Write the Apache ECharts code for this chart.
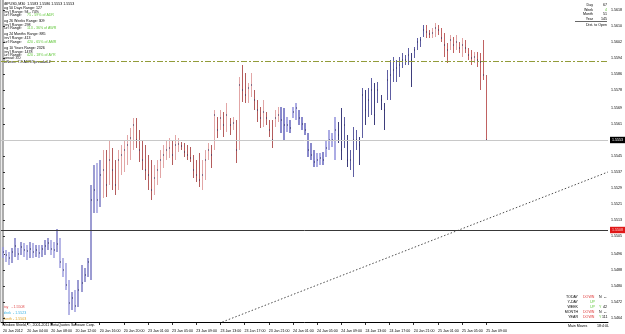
<!DOCTYPE html>
<html><head><meta charset="utf-8">
<script src="https://cdn.jsdelivr.net/npm/echarts@6/dist/echarts.min.js"></script>
<style>html,body{margin:0;padding:0;background:#fff}#c{width:625px;height:334px}</style>
</head><body><div id="c"></div>
<script>
// GBPUSD M30 bars, 20 Jan 00:00 .. 25 Jan 09:00
const barHigh = [
1.54995,1.5498,1.5497,1.5499,1.5504,1.5499,1.5502,1.55015,1.55005,1.5502,1.55015,1.55005,1.55005,1.55005,1.5503,1.5504,1.5503,1.5502,1.55085,1.5504,
1.5494,1.54915,1.5483,1.5477,1.5478,1.5483,1.54905,1.5489,1.5494,1.55305,
1.55405,1.55415,1.5543,1.5548,1.5548,1.5553,1.5549,1.5543,1.5548,1.55505,
1.5553,1.55555,1.5559,1.5564,1.5564,1.5558,1.5553,1.55505,1.55455,1.5543,
1.55405,1.5543,1.5548,1.55505,1.5553,1.5554,1.5553,1.55555,1.5554,1.5552,
1.55515,1.55505,1.55495,1.55455,1.5543,1.55465,1.5543,1.5548,1.55515,1.55505,
1.5568,1.55645,1.5568,1.5567,1.55715,1.5564,1.55645,1.5563,1.55845,1.55905,
1.55865,1.55815,1.55865,1.5578,1.5573,1.55695,1.5573,1.5567,1.5563,1.5563,
1.5568,1.55695,1.55695,1.5569,1.55645,1.5563,1.55695,1.55715,1.5568,1.55645,
1.55615,1.55565,1.55515,1.5548,1.55465,1.55465,1.5547,1.5553,1.5558,1.55565,
1.55645,1.5562,1.5569,1.55645,1.55555,1.5548,1.55595,1.5558,1.55545,1.5579,
1.5578,1.5579,1.5584,1.55815,1.5582,1.55755,1.55715,1.5588,1.5593,1.55945,
1.5593,1.55945,1.55965,1.55955,1.5599,1.55965,1.55995,1.5604,1.56045,1.56105,
1.56105,1.5608,1.5609,1.56115,1.56105,1.5609,1.56065,1.56015,1.56055,1.56045,
1.56055,1.5602,1.5604,1.5603,1.5599,1.5598,1.5597,1.5597,1.55965,1.5603,1.55855];
const barLow = [
1.5494,1.5492,1.54905,1.54915,1.54945,1.5493,1.54955,1.54945,1.5493,1.5494,1.5494,1.54945,1.5494,1.54945,1.54955,1.5498,1.54955,1.5494,1.5497,1.5489,
1.54845,1.5478,1.54655,1.5468,1.5467,1.54695,1.5477,1.5482,1.54845,1.5483,
1.55165,1.55165,1.55195,1.5524,1.55245,1.55305,1.5528,1.55255,1.5528,1.55355,
1.5537,1.55405,1.5543,1.5548,1.5549,1.5542,1.5538,1.5533,1.5528,1.5523,
1.55255,1.55305,1.5534,1.5539,1.5543,1.5544,1.55405,1.5543,1.5547,1.5548,
1.55445,1.5543,1.5542,1.5534,1.5532,1.55295,1.5528,1.5533,1.5543,1.5539,
1.5548,1.5554,1.5558,1.55545,1.5557,1.55555,1.5558,1.55415,1.5548,1.5572,
1.55715,1.55715,1.55745,1.5568,1.5562,1.5559,1.55595,1.55605,1.55545,1.5549,
1.55595,1.5562,1.55565,1.5553,1.5557,1.55565,1.5564,1.5563,1.55605,1.5558,
1.55555,1.55445,1.5543,1.55395,1.55395,1.55405,1.55405,1.55445,1.5548,1.55495,
1.5543,1.55515,1.5543,1.5549,1.55395,1.5538,1.55345,1.5548,1.55405,1.5554,
1.55605,1.55645,1.55655,1.55605,1.55715,1.5568,1.5558,1.5573,1.5573,1.5582,
1.5582,1.55845,1.5589,1.55905,1.55905,1.55795,1.5594,1.5598,1.55995,1.56045,
1.5604,1.5604,1.5604,1.56045,1.56055,1.5602,1.55945,1.55915,1.5598,1.55965,
1.5598,1.55965,1.55945,1.55965,1.5593,1.55905,1.55915,1.55895,1.5578,1.5583,1.5553];
const barClose = [
1.5497,1.54955,1.5494,1.5497,1.55,1.5496,1.54995,1.5498,1.54975,1.54985,1.5497,1.5498,1.54965,1.54985,1.55,1.55015,1.54985,1.5498,1.5501,1.5492,
1.5488,1.54805,1.54715,1.5474,1.547,1.5478,1.54815,1.54855,1.5492,1.5523,
1.5528,1.5523,1.55355,1.5538,1.55305,1.5543,1.5538,1.55305,1.5543,1.55455,
1.5548,1.55505,1.5554,1.55605,1.5553,1.5548,1.5543,1.5538,1.55355,1.5528,
1.5534,1.5538,1.5543,1.55455,1.5548,1.5549,1.55455,1.55505,1.5551,1.555,
1.5547,1.55455,1.5544,1.5538,1.55355,1.5533,1.55355,1.5543,1.5548,1.55455,
1.55655,1.5558,1.5564,1.55605,1.55655,1.55605,1.55615,1.5548,1.55805,1.5578,
1.55755,1.5579,1.55805,1.5573,1.5568,1.5564,1.5567,1.5564,1.5558,1.5553,
1.5564,1.55655,1.5563,1.55605,1.55605,1.5559,1.5567,1.5569,1.5564,1.5561,
1.5558,1.5548,1.55455,1.5542,1.5543,1.5544,1.5543,1.5549,1.5553,1.5553,
1.5558,1.55555,1.5548,1.55605,1.5543,1.5543,1.5553,1.5553,1.55505,1.55755,
1.5568,1.5573,1.5578,1.55655,1.5578,1.5573,1.5568,1.5583,1.55855,1.5588,
1.5589,1.55905,1.5593,1.5593,1.55955,1.5593,1.5598,1.5602,1.5603,1.5608,
1.5607,1.5606,1.56065,1.5609,1.5608,1.5604,1.56005,1.5598,1.5603,1.56005,
1.5602,1.5599,1.56005,1.5599,1.55955,1.5594,1.55945,1.5593,1.5592,1.55855,1.5553];

const timeTickLabels = ['20 Jan 2012','20 Jan 04:00','20 Jan 08:00','20 Jan 12:00','20 Jan 16:00','20 Jan 20:00',
  '23 Jan 01:00','23 Jan 05:00','23 Jan 09:00','23 Jan 13:00','23 Jan 17:00','23 Jan 21:00',
  '24 Jan 01:00','24 Jan 05:00','24 Jan 09:00','24 Jan 13:00','24 Jan 17:00','24 Jan 21:00',
  '25 Jan 01:00','25 Jan 05:00','25 Jan 09:00'];
const barsPerTimeLabel = 8;
const priceTicks = [1.5618,1.5610,1.5602,1.5594,1.5586,1.5578,1.5569,1.5561,1.5545,1.5537,1.5529,1.5521,1.5513,1.5505,1.5496,1.5488,1.5480,1.5472,1.5464];

const dayOpen = 1.5508, weekOpen = 1.5523, monthOpen = 1.5503;
const bidPrice = 1.5553;
const levelPrice = 1.55925;
const trendLine = [[72.6, 1.5462], [200.3, 1.5537]];

const shading = [
  {from:0,to:32,up:'#9c9cd2',down:'#b6b6e6',width:2},
  {from:33,to:91,up:'#e2a6a6',down:'#b45c5c',width:1},
  {from:92,to:110,up:'#acace4',down:'#8a8acc',width:2},
  {from:111,to:139,up:'#5e5ea2',down:'#3e3e7c',width:1},
  {from:140,to:160,up:'#e0a2a2',down:'#c06262',width:1}
];
function styleFor(i){ for (const s of shading) if (i>=s.from && i<=s.to) return s; return shading[0]; }

const barData = barHigh.map((h, i) => [i, h, barLow[i], barClose[i]]);
const timeTickIdx = timeTickLabels.map((_, k) => k * barsPerTimeLabel);

const FONT = 'Liberation Sans';
const FS = 3.6;
function txt(x, y, text, fill, align) {
  return {type:'text', x:x, y:y, silent:true, style:{text:text, fill:fill||'#000', fontSize:FS, fontFamily:FONT, align:align||'left', verticalAlign:'middle'}};
}
const GREEN = '#62c83c', RED = '#e03a3a';
const texts = [
  txt(2,4,'GBPUSD,M30  1.5583 1.5586 1.5553 1.5553'),
  txt(2,8,'Avg 50 Days Range: 127'),
  txt(2,11.5,"Prev'l Range: 94 - 74%"),
  txt(2,15,"Cur'l Range:"), txt(27,15,'75 - 59% of ADR',GREEN),
  txt(2,21,'Avg 26 Weeks Range: 309'),
  txt(2,24.5,"Prev'l Range: 298"),
  txt(2,28,"Cur'l Range:"), txt(27,28,'113 - 36% of AWR',GREEN),
  txt(2,34,'Avg 24 Months Range: 885'),
  txt(2,38,"Prev'l Range: 413"),
  txt(2,42,"Cur'l Range:"), txt(27,42,'420 - 65% of AMR',GREEN),
  txt(2,48,'Avg 10 Years Range: 2326'),
  txt(2,51.5,"Prev'l Range: 1478"),
  txt(2,55,"Cur'l Range:"), txt(27,55,'420 - 18% of AYR',GREEN),
  txt(2,58,'Spread: 3.0'),
  txt(2,61.5,'NoNews: 7.8 ADR/Spread=4.2'),
  // top right
  txt(593,5,'Day','#000','right'), txt(607,5,'67','#000','right'),
  txt(593,9.5,'Week','#000','right'), txt(607,9.5,'4',GREEN,'right'),
  txt(593,14,'Month','#000','right'), txt(607,14,'51','#000','right'),
  txt(593,18.5,'Year','#000','right'), txt(607,18.5,'145','#000','right'),
  {type:'line', silent:true, shape:{x1:575,y1:21.5,x2:607,y2:21.5}, style:{stroke:'#000',lineWidth:0.6}},
  txt(607,25,'Dist. to Open','#000','right'),
  // bottom right
  txt(578,297,'TODAY','#000','right'), txt(583,297,'DOWN',RED), txt(599,297,'N'), txt(604,297,'--'),
  txt(578,302,'Y-DAY','#000','right'), txt(590,302,'UP',GREEN),
  txt(578,307,'WEEK','#000','right'), txt(590,307,'UP',GREEN), txt(599,307,'Y',GREEN), txt(603,307,'42'),
  txt(578,312,'MONTH','#000','right'), txt(583,312,'DOWN',RED), txt(599,312,'N'), txt(604,312,'--'),
  txt(578,317,'YEAR','#000','right'), txt(583,317,'DOWN',RED), txt(599,317,'Y',GREEN), txt(602,317,'111'),
  txt(568,326,'Main Moves'), txt(597,326,'18:4:0L'),
  // bottom left
  txt(2,307,'Day   - ' + dayOpen.toFixed(4),'#e04848'),
  txt(2,313,'Week  - ' + weekOpen.toFixed(4),'#3cb4e6'),
  txt(2,319,'Month - ' + monthOpen.toFixed(4),'#e0a428'),
  txt(2,324.5,'Window Shield, \u00a9, 2001-2011 MetaQuotes Software Corp.'),
  {type:'line', silent:true, shape:{x1:0.5,y1:0,x2:0.5,y2:322}, style:{stroke:'#b4b4b4',lineWidth:1.5}}
];

const chart = echarts.init(document.getElementById('c'), null, {renderer:'canvas'});
chart.setOption({
  animation:false,
  backgroundColor:'#ffffff',
  grid:{left:0, top:0, width:609, height:322, containLabel:false},
  xAxis:{type:'value', min:-0.66, max:200.33,
    axisLine:{show:true, lineStyle:{color:'#000', width:1}},
    axisTick:{show:true, customValues:timeTickIdx, length:3, lineStyle:{color:'#000', width:0.8}},
    axisLabel:{customValues:timeTickIdx, formatter:v=>timeTickLabels[Math.round(v/barsPerTimeLabel)], align:'left', fontSize:FS, fontFamily:FONT, color:'#000', margin:7},
    splitLine:{show:false}},
  yAxis:{type:'value', position:'right', min:1.5462, max:1.5623,
    axisLine:{show:true, lineStyle:{color:'#acacac', width:2}},
    axisTick:{show:true, customValues:priceTicks, length:2, lineStyle:{color:'#000', width:0.8}},
    axisLabel:{customValues:priceTicks, formatter:v=>v.toFixed(4), fontSize:FS, fontFamily:FONT, color:'#000', margin:3},
    splitLine:{show:false}},
  series:[
    {type:'line', data:trendLine, symbol:'none', silent:true,
      lineStyle:{color:'#505050', width:1, type:[1.5,2]}, z:2},
    {type:'line', data:[], symbol:'none', silent:true,
      markLine:{symbol:'none', silent:true, animation:false, precision:6, data:[
        {yAxis:levelPrice, lineStyle:{color:'#929c3a', width:1, type:[6,2,2,2]}, label:{show:false}},
        {yAxis:bidPrice, lineStyle:{color:'#c8c8c8', width:1, type:'solid'},
          label:{show:true, position:'end', distance:2, formatter:bidPrice.toFixed(4), color:'#fff', backgroundColor:'#000', fontSize:FS, fontFamily:FONT, padding:[1.2,2]}},
        {yAxis:dayOpen, lineStyle:{color:'#383838', width:1, type:'solid'},
          label:{show:true, position:'end', distance:2, formatter:dayOpen.toFixed(4), color:'#ffd0d0', backgroundColor:'#e01818', fontSize:FS, fontFamily:FONT, padding:[1.2,2]}}
      ]}, z:1},
    {type:'custom', data:barData, z:3, silent:true,
      renderItem:function(params, api){
        const i = api.value(0);
        const top = api.coord([i, api.value(1)]);
        const bot = api.coord([i, api.value(2)]);
        const cl = api.coord([i, api.value(3)]);
        const s = styleFor(i);
        const prev = i > 0 ? barClose[i-1] : barClose[i];
        const color = barClose[i] >= prev ? s.up : s.down;
        const xc = Math.round(top[0]);
        const x = s.width === 2 ? xc : xc + 0.5;
        return {type:'group', children:[
          {type:'line', shape:{x1:x, y1:Math.round(top[1]), x2:x, y2:Math.round(bot[1])}, style:{stroke:color, lineWidth:s.width}},
          {type:'rect', shape:{x:xc, y:Math.round(cl[1])-0.5, width:1, height:1}, style:{fill:'#2a2a5a'}}
        ]};
      }}
  ],
  graphic:texts
});
</script></body></html>
